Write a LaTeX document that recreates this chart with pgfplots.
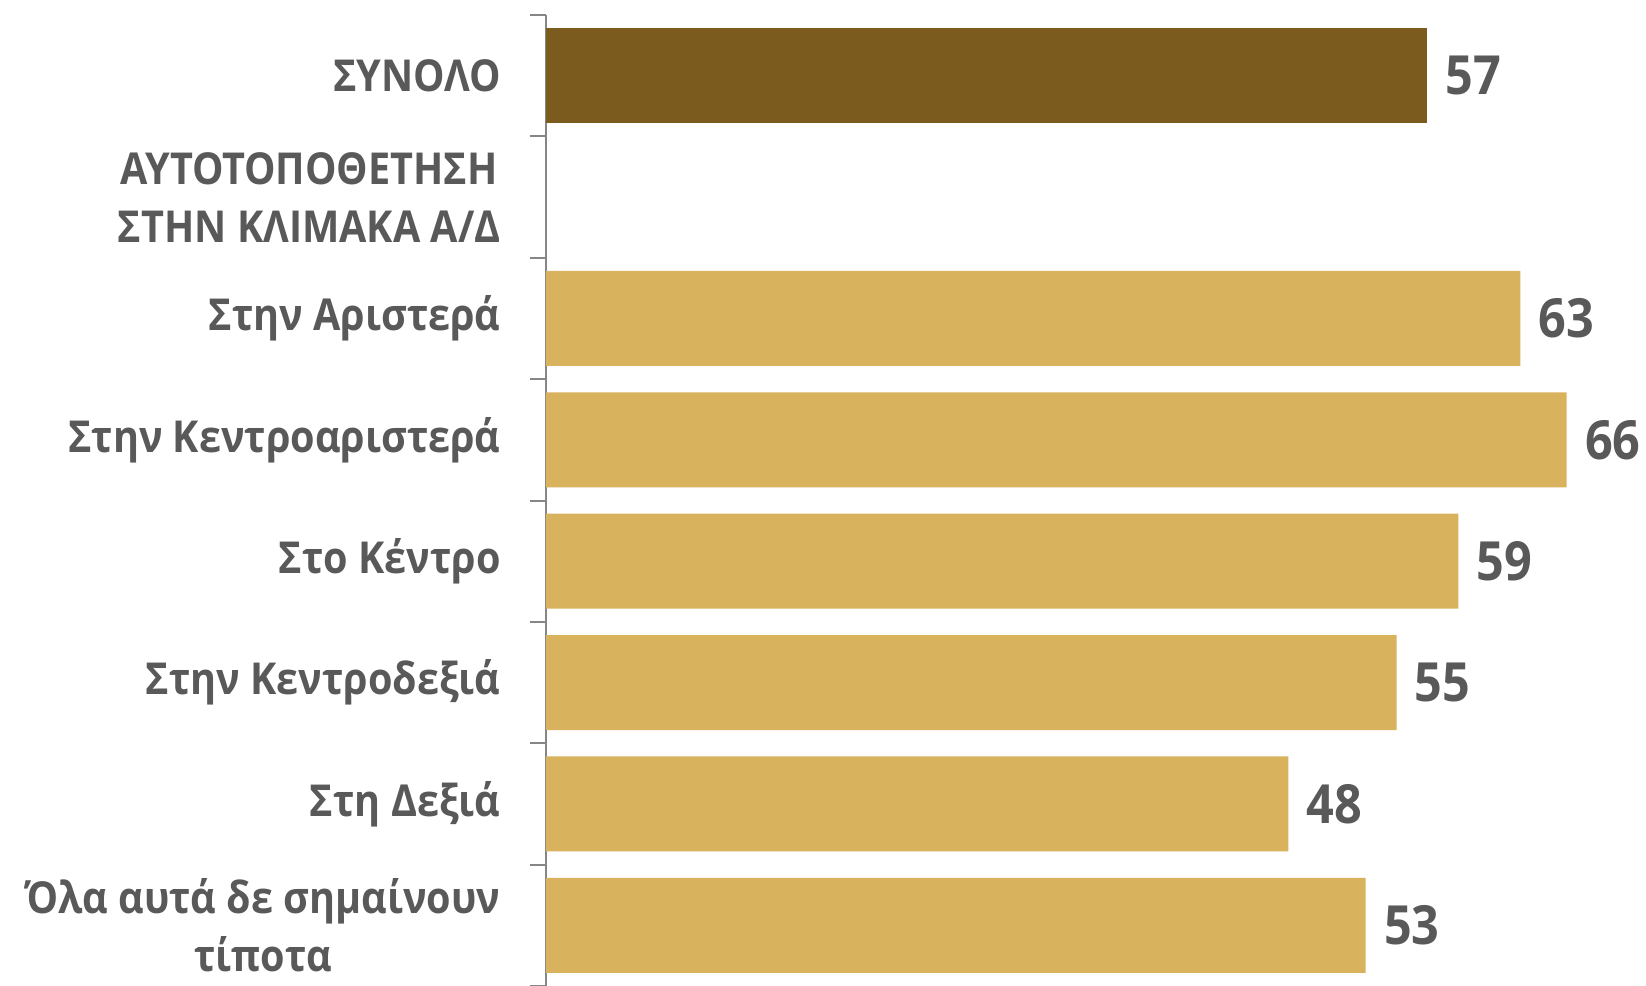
\documentclass[border=0pt]{standalone}
\usepackage{pgfplots}
\pgfplotsset{compat=1.18}
\usepackage{fontspec}
\setmainfont{Open Sans}[BoldFeatures={FakeStretch=0.9}]
\definecolor{darkbar}{HTML}{7B5C1E}
\definecolor{tanbar}{HTML}{D8B25D}
\definecolor{labgray}{HTML}{595959}
\definecolor{axgray}{HTML}{868686}
\begin{document}
\begin{tikzpicture}[x=1pt,y=1pt]
\useasboundingbox (0,0) rectangle (823,493);
\begin{axis}[
  at={(273pt,0pt)}, anchor=south west,
  scale only axis,
  width=549pt, height=485.5pt,
  xbar, bar shift=0pt, bar width=47.5pt,
  xmin=0, xmax=71,
  ymin=-0.5, ymax=7.5,
  y dir=reverse,
  axis x line=none,
  axis y line*=left,
  y axis line style={-, draw=axgray, line width=1pt},
  ytick={0,1,2,3,4,5,6,7},
  yticklabels={{ΣΥΝΟΛΟ},{ΑΥΤΟΤΟΠΟΘΕΤΗΣΗ\\ΣΤΗΝ ΚΛΙΜΑΚΑ Α/Δ},{Στην Αριστερά},{Στην Κεντροαριστερά},{Στο Κέντρο},{Στην Κεντροδεξιά},{Στη Δεξιά},{Όλα αυτά δε σημαίνουν\\τίποτα}},
  major tick length=0pt,
  minor ytick={-0.5,0.5,...,7.5},
  minor tick length=8pt,
  tick align=outside,
  minor tick style={draw=axgray, line width=1pt},
  yticklabel style={font=\fontsize{22}{29}\selectfont\bfseries, text=labgray, align=center, inner sep=0pt, anchor=east, xshift=-22.5pt},
  clip=false,
  nodes near coords,
  nodes near coords style={font=\fontsize{27}{30}\selectfont\bfseries, text=labgray, anchor=west, inner sep=0pt, xshift=9pt, /pgf/number format/assume math mode=true},
]
\addplot[fill=darkbar, draw=none] coordinates {(57,0)};
\addplot[fill=tanbar, draw=none] coordinates {(63,2) (66,3) (59,4) (55,5) (48,6) (53,7)};
\end{axis}
\end{tikzpicture}
\end{document}
